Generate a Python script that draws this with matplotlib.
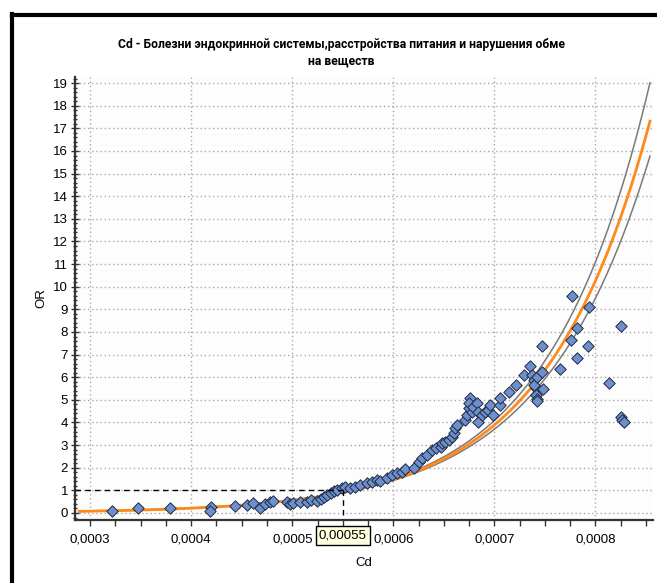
import numpy as np
import matplotlib
matplotlib.use("Agg")
import matplotlib.pyplot as plt
from matplotlib.ticker import MultipleLocator, FuncFormatter
from matplotlib.lines import Line2D

# scatter points: Cd concentration vs OR
cd = [0.000322, 0.000347, 0.000379, 0.000420, 0.000419, 0.000443, 0.000455,
      0.000461, 0.000468, 0.000473, 0.000478, 0.000481, 0.000495, 0.000498,
      0.000501, 0.000508, 0.000515, 0.000519, 0.000524, 0.000528, 0.000531,
      0.000534, 0.000538, 0.000541, 0.000544, 0.000549, 0.000552, 0.000557,
      0.000562, 0.000567, 0.000574, 0.000579, 0.000584, 0.000587, 0.000594,
      0.000599, 0.000604, 0.000609, 0.000612, 0.000620, 0.000625, 0.000628,
      0.000633, 0.000638, 0.000642, 0.000647, 0.000648, 0.000651, 0.000655,
      0.000658, 0.000660, 0.000661, 0.000663, 0.000671, 0.000673, 0.000675,
      0.000676, 0.000675, 0.000678, 0.000679, 0.000683, 0.000684, 0.000684,
      0.000688, 0.000691, 0.000694, 0.000696, 0.000699, 0.000706, 0.000706,
      0.000714, 0.000721, 0.000729, 0.000735, 0.000737, 0.000739, 0.000741,
      0.000739, 0.000742, 0.000741, 0.000742, 0.000742, 0.000747, 0.000748,
      0.000747, 0.000765, 0.000777, 0.000776, 0.000782, 0.000782, 0.000794,
      0.000793, 0.000813, 0.000825, 0.000825, 0.000826, 0.000828]
odds = [0.10, 0.23, 0.21, 0.28, 0.10, 0.32, 0.35,
        0.44, 0.23, 0.38, 0.50, 0.53, 0.47, 0.38,
        0.44, 0.47, 0.50, 0.57, 0.53, 0.62, 0.72,
        0.80, 0.87, 0.97, 1.02, 1.09, 1.16, 1.12,
        1.16, 1.24, 1.31, 1.38, 1.46, 1.41, 1.56,
        1.68, 1.75, 1.82, 1.94, 1.99, 2.27, 2.42,
        2.56, 2.78, 2.86, 2.93, 3.08, 3.15, 3.23,
        3.37, 3.52, 3.74, 3.89, 4.11, 4.33, 4.63,
        5.07, 4.85, 4.48, 4.70, 4.85, 4.48, 4.03,
        4.33, 4.48, 4.55, 4.77, 4.33, 4.77, 5.07,
        5.36, 5.66, 6.10, 6.50, 6.10, 5.88, 5.51,
        5.66, 6.02, 5.21, 5.02, 4.96, 6.24, 5.47,
        7.38, 6.35, 9.60, 7.64, 8.16, 6.84, 9.12,
        7.38, 5.73, 8.28, 4.23, 4.11, 4.01]

# fitted model: ln(OR) = slope * (Cd - cd_ref), CI half-width grows from centre
slope = 9700.0
cd_ref = 0.00056
ci_centre = 0.00055
ci_base = 0.0004
ci_k = 90000.0
curve_start, curve_end = 0.000289, 0.000854

threshold_or = 1.0
threshold_cd = 0.00055
threshold_label = "0,00055"

title = "Cd - Болезни эндокринной системы,расстройства питания и нарушения обме\nна веществ"

fig = plt.figure(figsize=(6.57, 5.83), dpi=100)
fig.patch.set_facecolor("white")
ax = fig.add_axes([75 / 657, 1 - 520 / 583, 578 / 657, 443 / 583])
ax.set_facecolor("#fdfdfd")

xs = np.linspace(curve_start, curve_end, 300)
lin = slope * (xs - cd_ref)
half = np.sqrt(ci_base + ci_k * (xs - ci_centre) ** 2)
ax.plot(xs, np.exp(lin + half), color="#7a7a7a", lw=1.1, zorder=3)
ax.plot(xs, np.exp(lin - half), color="#7a7a7a", lw=1.1, zorder=3)
ax.plot(xs, np.exp(lin), color="#ff8a1a", lw=2.0, zorder=4)

ax.scatter(cd, odds, marker="D", s=34, facecolor="#6e8fca",
           edgecolor="#1c2a44", linewidth=0.7, zorder=5)

ax.set_xlim(0.000285, 0.000857)
ax.set_ylim(-0.31, 19.27)

ax.plot([0.000285, threshold_cd], [threshold_or, threshold_or],
        color="black", lw=1, dashes=(4, 3), zorder=6)
ax.plot([threshold_cd, threshold_cd], [threshold_or, -0.31],
        color="black", lw=1, dashes=(4, 3), zorder=6)

ax.xaxis.set_major_locator(MultipleLocator(0.0001))
ax.xaxis.set_minor_locator(MultipleLocator(0.000025))
ax.yaxis.set_major_locator(MultipleLocator(1))
ax.yaxis.set_minor_locator(MultipleLocator(0.2))
ax.xaxis.set_major_formatter(FuncFormatter(lambda v, p: f"{v:.4f}".replace(".", ",")))
ax.yaxis.set_major_formatter(FuncFormatter(lambda v, p: f"{v:.0f}"))

ax.grid(True, which="major", color="#a8a8a8", lw=1, linestyle=(0, (1, 2)))
for s in ["top", "right"]:
    ax.spines[s].set_visible(False)
for s in ["left", "bottom"]:
    ax.spines[s].set_color("#333333")
    ax.spines[s].set_linewidth(1.6)

tick_font = ["Liberation Sans", "DejaVu Sans"]
ax.tick_params(axis="y", which="major", direction="inout", length=6, width=1,
               color="#333333", labelsize=9.5, pad=2)
ax.tick_params(axis="y", which="minor", direction="inout", length=3, width=1,
               color="#333333")
ax.tick_params(axis="x", which="both", direction="out", length=4, width=1,
               color="#333333", labelsize=9.5, pad=6)
for lab in ax.get_xticklabels() + ax.get_yticklabels():
    lab.set_family(tick_font)

ax.set_xlabel("Cd", fontsize=9.5, family=tick_font, labelpad=8)
ax.set_ylabel("OR", fontsize=9.5, family=tick_font, labelpad=4)

ax.annotate(threshold_label, xy=(threshold_cd, -0.31), xytext=(0, -11),
            textcoords="offset points", ha="center", va="center",
            fontsize=9.5, family=tick_font, zorder=10, annotation_clip=False,
            bbox=dict(boxstyle="square,pad=0.25", fc="#ffffe1", ec="black", lw=1))

fig.text(341 / 657, 1 - 53 / 583, title, ha="center", va="center",
         fontsize=8.7, fontweight="bold", linespacing=1.35,
         family=["Roboto", "DejaVu Sans"])

# black frame of the original window (left and top edges)
fig.add_artist(Line2D([12 / 657, 12 / 657], [0, 1 - 14 / 583],
                      transform=fig.transFigure, color="black", lw=3))
fig.add_artist(Line2D([12 / 657, 1], [1 - 15 / 583, 1 - 15 / 583],
                      transform=fig.transFigure, color="black", lw=3))

fig.savefig("out.png", dpi=100)
